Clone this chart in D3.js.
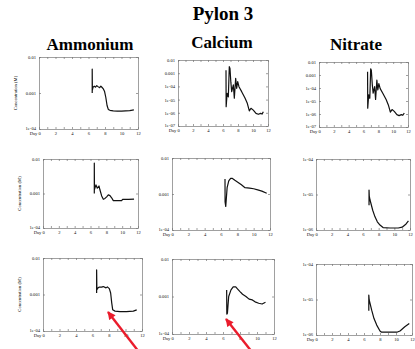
<!DOCTYPE html>
<html>
<head>
<meta charset="utf-8">
<script src="https://cdn.jsdelivr.net/npm/d3@7"></script>
<style>
  body { margin: 0; background: #fff; }
  text { font-family: "Liberation Serif", "DejaVu Serif", serif; }
</style>
</head>
<body>
<script>
// series: [day, concentration (M)]
const ammonium1 = [[6.45, 1e-3], [6.45, 4.6e-3], [6.47, 1.2e-3], [6.55, 1.45e-3], [6.7, 1.55e-3], [6.85, 1.45e-3],
  [7.0, 1.6e-3], [7.2, 1.48e-3], [7.35, 1.4e-3], [7.5, 1.55e-3], [7.65, 1.42e-3], [7.8, 1.3e-3], [7.95, 1.1e-3],
  [8.1, 7.5e-4], [8.25, 4.5e-4], [8.4, 3.5e-4], [8.6, 3.3e-4], [9.0, 3.2e-4], [9.5, 3.15e-4], [10.0, 3.15e-4],
  [10.5, 3.2e-4], [11.0, 3.25e-4], [11.5, 3.4e-4]];
const calcium1 = [[6.4, 1.7e-3], [6.42, 2.9e-6], [6.55, 3e-5], [6.71, 1.6e-5], [6.84, 3.1e-3], [6.93, 2.3e-3],
  [7.05, 2e-4], [7.16, 4e-5], [7.38, 1.3e-4], [7.51, 1.3e-5], [7.69, 4.1e-4], [7.82, 7.2e-5], [7.96, 2.3e-4],
  [8.13, 9.5e-5], [8.49, 4e-5], [8.93, 1.3e-5], [9.24, 5.2e-6], [9.51, 1.4e-6], [9.73, 2.2e-6], [10.04, 1.6e-6],
  [10.4, 9e-7], [10.71, 7.7e-7], [11.02, 9e-7], [11.2, 8e-7], [11.38, 1.2e-6]];
const nitrate1 = [[6.55, 1.8e-3], [6.57, 2.8e-6], [6.7, 3e-5], [6.85, 1.6e-5], [6.97, 3e-3], [7.06, 2.2e-3],
  [7.18, 2e-4], [7.3, 4e-5], [7.5, 1.3e-4], [7.63, 1.3e-5], [7.8, 4e-4], [7.93, 7e-5], [8.07, 2.2e-4],
  [8.25, 9e-5], [8.6, 4e-5], [9.05, 1.3e-5], [9.35, 5e-6], [9.62, 1.4e-6], [9.85, 2.2e-6], [10.15, 1.6e-6],
  [10.5, 9e-7], [10.8, 7.5e-7], [11.1, 9e-7], [11.3, 8e-7], [11.5, 1.2e-6]];

const ammonium2 = [[6.48, 1e-3], [6.48, 7.6e-3], [6.5, 1.3e-3], [6.69, 1.78e-3], [6.86, 1.42e-3], [7.07, 1.65e-3],
  [7.2, 1.26e-3], [7.41, 8.5e-4], [7.62, 6.8e-4], [7.83, 7.2e-4], [8.04, 8e-4], [8.25, 9.1e-4], [8.46, 8.7e-4],
  [8.67, 7.5e-4], [8.88, 6.2e-4], [9.4, 6.2e-4], [9.93, 6.2e-4], [10.06, 6.8e-4], [10.8, 6.8e-4], [11.5, 6.9e-4]];
const calcium2 = [[6.49, 2.6e-3], [6.5, 6e-4], [6.58, 4.5e-4], [6.75, 1.5e-3], [6.95, 2.3e-3], [7.18, 2.7e-3],
  [7.4, 2.7e-3], [7.7, 2.4e-3], [8.1, 2.1e-3], [8.5, 1.8e-3], [8.94, 1.5e-3], [9.5, 1.45e-3], [10.0, 1.4e-3],
  [10.5, 1.3e-3], [11.0, 1.2e-3], [11.6, 1.05e-3]];
const nitrate2 = [[6.77, 5e-6], [6.77, 1.34e-5], [6.8, 9e-6], [6.9, 7e-6], [7.24, 3.6e-6], [7.53, 2.35e-6],
  [7.83, 1.7e-6], [8.17, 1.38e-6], [8.56, 1.17e-6], [9.45, 1.14e-6], [10.5, 1.14e-6], [11.0, 1.2e-6],
  [11.5, 1.48e-6], [11.8, 1.8e-6]];

const ammonium3 = [[6.5, 1.1e-3], [6.5, 4.7e-3], [6.53, 1.35e-3], [6.65, 1.5e-3], [6.83, 1.6e-3], [7.1, 1.6e-3],
  [7.3, 1.65e-3], [7.64, 1.52e-3], [7.8, 1.62e-3], [8.04, 1.45e-3], [8.2, 1.1e-3], [8.33, 5.9e-4], [8.45, 3.8e-4],
  [8.73, 3.5e-4], [9.33, 3.4e-4], [10.1, 3.4e-4], [10.95, 3.5e-4], [11.36, 3.8e-4]];
const calcium3 = [[6.43, 1.5e-3], [6.45, 3.4e-4], [6.52, 3.6e-4], [6.67, 1e-3], [6.94, 1.5e-3], [7.2, 1.8e-3],
  [7.5, 1.8e-3], [7.7, 1.6e-3], [8.0, 1.35e-3], [8.3, 1.15e-3], [8.7, 1e-3], [9.07, 8.5e-4], [9.45, 8.1e-4],
  [9.77, 7.2e-4], [10.2, 6.6e-4], [10.6, 6.3e-4], [11.0, 7e-4]];
const nitrate3 = [[6.6, 4.8e-6], [6.6, 1.34e-5], [6.65, 9.7e-6], [6.96, 5e-6], [7.25, 2.9e-6], [7.59, 1.9e-6],
  [8.0, 1.3e-6], [8.2, 1.2e-6], [9.1, 1.2e-6], [10.1, 1.2e-6], [10.5, 1.3e-6], [11.1, 1.7e-6], [11.66, 2.1e-6]];

const columnTitles = ["Ammonium", "Calcium", "Nitrate"];
const xTicks = [0, 1, 2, 3, 4, 5, 6, 7, 8, 9, 10, 11, 12];
const yLabel = "Concentration (M)";

// frame box of each panel and its log range
const panels = [
  { data: ammonium1, x0: 39, x1: 138, y0: 57, y1: 129, lo: 1e-4, hi: 1e-2, ylab: 17 },
  { data: calcium1, x0: 178, x1: 268, y0: 60, y1: 126, lo: 1e-7, hi: 1e-2 },
  { data: nitrate1, x0: 319, x1: 408, y0: 62, y1: 127, lo: 1e-7, hi: 1e-2 },
  { data: ammonium2, x0: 43, x1: 138, y0: 159, y1: 228, lo: 1e-4, hi: 1e-2, ylab: 21 },
  { data: calcium2, x0: 172, x1: 270, y0: 158, y1: 230, lo: 1e-4, hi: 1e-2 },
  { data: nitrate2, x0: 316, x1: 410, y0: 159, y1: 230, lo: 1e-6, hi: 1e-4 },
  { data: ammonium3, x0: 43, x1: 142, y0: 258, y1: 331, lo: 1e-4, hi: 1e-2, ylab: 21 },
  { data: calcium3, x0: 172, x1: 274, y0: 259, y1: 334, lo: 1e-4, hi: 1e-2 },
  { data: nitrate3, x0: 316, x1: 412, y0: 264, y1: 335, lo: 1e-6, hi: 1e-4 }
];

const width = 415, height = 349;
const svg = d3.select("body").append("svg")
  .attr("width", width)
  .attr("height", height);

svg.append("text")
  .attr("x", 223).attr("y", 20)
  .attr("text-anchor", "middle")
  .style("font-size", "19px").style("font-weight", "bold")
  .text("Pylon 3");

const titleX = [90, 222, 356], titleY = [50, 48, 50];
columnTitles.forEach((t, i) => {
  svg.append("text")
    .attr("x", titleX[i]).attr("y", titleY[i])
    .attr("text-anchor", "middle")
    .style("font-size", "17px").style("font-weight", "bold")
    .text(t);
});

function yFmt(v) {
  const e = Math.round(Math.log10(v));
  return e >= -3 ? v.toFixed(-e) : "1e-" + String(-e).padStart(2, "0");
}

panels.forEach(p => {
  const x = d3.scaleLinear().domain([0, 12]).range([p.x0, p.x1]);
  const y = d3.scaleLog().domain([p.lo, p.hi]).range([p.y1, p.y0]);
  const decades = d3.range(Math.round(Math.log10(p.lo)), Math.round(Math.log10(p.hi)) + 1).map(e => Math.pow(10, e));

  const g = svg.append("g");

  const bottom = g.append("g").attr("transform", `translate(0,${p.y1})`)
    .call(d3.axisBottom(x).tickValues(xTicks).tickSizeInner(-2).tickSizeOuter(0).tickPadding(3)
      .tickFormat(d => d % 2 ? "" : (d === 0 ? "Day 0" : d)));
  bottom.selectAll(".tick text").filter(d => d === 0).attr("text-anchor", "end").attr("dx", "1.3");

  g.append("g").attr("transform", `translate(0,${p.y0})`)
    .call(d3.axisTop(x).tickValues(xTicks).tickSizeInner(-2).tickSizeOuter(0).tickFormat(""));

  const left = g.append("g").attr("transform", `translate(${p.x0},0)`)
    .call(d3.axisLeft(y).tickValues(decades).tickSizeInner(-2).tickSizeOuter(0).tickPadding(3).tickFormat(yFmt));
  // lowest label sits just above the "Day 0" label
  left.selectAll(".tick text").filter(d => d === p.lo).attr("dy", "0.05em");

  g.append("g").attr("transform", `translate(${p.x1},0)`)
    .call(d3.axisRight(y).tickValues(decades).tickSizeInner(-2).tickSizeOuter(0).tickFormat(""));

  g.selectAll(".domain, .tick line").attr("stroke", "#777").attr("stroke-width", 0.7);
  g.selectAll(".tick text").attr("fill", "#111").style("font-size", "4.6px")
    .style("font-family", "'Liberation Serif', serif");

  g.append("path")
    .datum(p.data)
    .attr("fill", "none")
    .attr("stroke", "#111")
    .attr("stroke-width", 1.2)
    .attr("stroke-linejoin", "round")
    .attr("d", d3.line().x(d => x(d[0])).y(d => y(d[1])));

  if (p.ylab) {
    g.append("text")
      .attr("transform", `translate(${p.ylab},${(p.y0 + p.y1) / 2}) rotate(-90)`)
      .attr("text-anchor", "middle")
      .style("font-size", "4.6px")
      .text(yLabel);
  }
});

// red arrows pointing at the drops
const arrows = [[[139, 352], [108, 312]], [[252, 352], [226, 319]]];
const defs = svg.append("defs");
defs.append("marker")
  .attr("id", "head")
  .attr("markerUnits", "userSpaceOnUse")
  .attr("viewBox", "0 0 10 10")
  .attr("refX", 9).attr("refY", 5)
  .attr("markerWidth", 9).attr("markerHeight", 8)
  .attr("orient", "auto")
  .append("path").attr("d", "M0,0L10,5L0,10Z").attr("fill", "#ea1c2c");

arrows.forEach(a => {
  svg.append("line")
    .attr("x1", a[0][0]).attr("y1", a[0][1])
    .attr("x2", a[1][0]).attr("y2", a[1][1])
    .attr("stroke", "#ea1c2c")
    .attr("stroke-width", 2.4)
    .attr("marker-end", "url(#head)");
});
</script>
</body>
</html>
